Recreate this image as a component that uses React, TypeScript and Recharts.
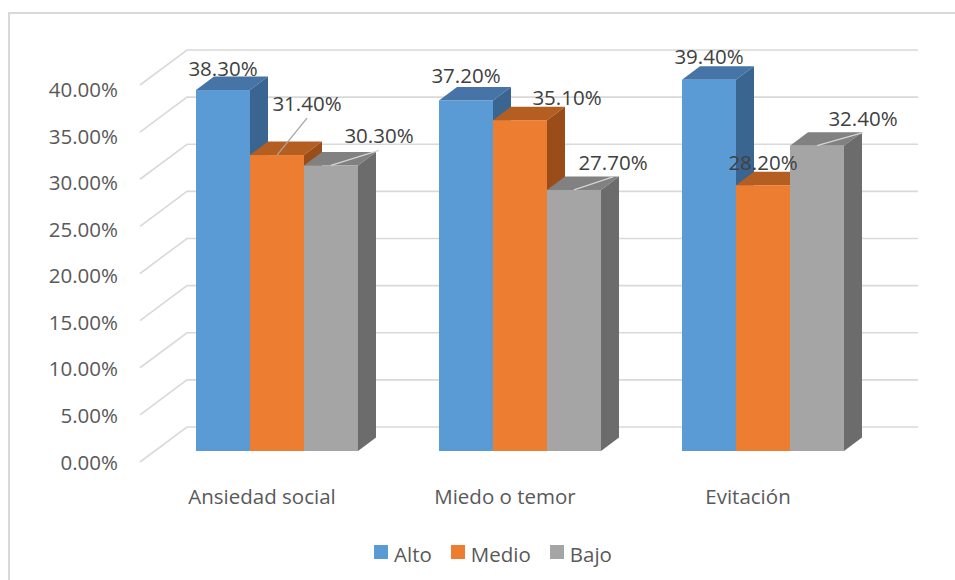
import {
  BarChart,
  Bar,
  XAxis,
  YAxis,
  CartesianGrid,
  Legend,
  LabelList,
} from "recharts";

const CATEGORIES = ["Ansiedad social", "Miedo o temor", "Evitación"];
const ALTO = [38.3, 37.2, 39.4];
const MEDIO = [31.4, 35.1, 28.2];
const BAJO = [30.3, 27.7, 32.4];
const SERIES_NAMES = ["Alto", "Medio", "Bajo"];
const Y_TICKS = [0, 5, 10, 15, 20, 25, 30, 35, 40];

const data = CATEGORIES.map((name, i) => ({
  name,
  alto: ALTO[i],
  medio: MEDIO[i],
  bajo: BAJO[i],
}));

// front / top / side shades of each series
const SHADES = {
  alto: ["#5B9BD5", "#4674A6", "#3A6590"],
  medio: ["#ED7D31", "#B55E22", "#9A4C19"],
  bajo: ["#A5A5A5", "#818181", "#6C6C6C"],
};

// label placement (dx, dy from bar top centre, leader line)
const LABEL_POS: Record<string, [number, number, boolean][]> = {
  alto: [
    [0, -21, false],
    [0, -24, false],
    [0, -23, false],
  ],
  medio: [
    [30, -51, true],
    [47, -22, false],
    [0, -22, false],
  ],
  bajo: [
    [48, -29, true],
    [39, -27, true],
    [46, -27, true],
  ],
};

const FONT = "'Open Sans', sans-serif";
const DEPTH_X = 18;
const DEPTH_Y = 13.5;

const make3dBar = (key: keyof typeof SHADES) => (props: any) => {
  const { x, y, width, height } = props;
  const [front, top, side] = SHADES[key];
  const r = x + width;
  const b = y + height;
  return (
    <g>
      <polygon
        points={`${x},${y} ${x + DEPTH_X},${y - DEPTH_Y} ${r + DEPTH_X},${y - DEPTH_Y} ${r},${y}`}
        fill={top}
      />
      <polygon
        points={`${r},${y} ${r + DEPTH_X},${y - DEPTH_Y} ${r + DEPTH_X},${b - DEPTH_Y} ${r},${b}`}
        fill={side}
      />
      <rect x={x} y={y} width={width} height={height} fill={front} />
    </g>
  );
};

const makeLabel = (key: string) => (props: any) => {
  const { x, y, width, value, index } = props;
  const [dx, dy, lead] = LABEL_POS[key][index];
  const cx = x + width / 2;
  const lx = cx + dx;
  const ly = y + dy;
  return (
    <g key={`${key}-${index}`}>
      {lead && (
        <line
          x1={cx}
          y1={y}
          x2={lx}
          y2={ly + 14}
          stroke={key === "bajo" ? "#d4d4d4" : "#a6a6a6"}
          strokeWidth={1.3}
        />
      )}
      <text
        x={lx}
        y={ly + 7}
        textAnchor="middle"
        fontFamily={FONT}
        fontSize={20.5}
        fill="#404040"
      >
        {value.toFixed(2)}%
      </text>
    </g>
  );
};

const gridLine = (p: any) => {
  const y = p.y1;
  return (
    <polyline
      key={`grid-${y}`}
      points={`${p.x1 - 15},${y + 11} ${p.x1 + 32},${y - 24} ${p.x2 + 34},${y - 24}`}
      fill="none"
      stroke="#d9d9d9"
      strokeWidth={1.6}
    />
  );
};

const YTick = (props: any) => {
  const { y, payload } = props;
  const cy = y + 11.5 + (451 - y) * 0.012;
  return (
    <text
      x={118}
      y={cy + 7}
      textAnchor="end"
      fontFamily={FONT}
      fontSize={20.5}
      fill="#595959"
    >
      {payload.value.toFixed(2)}%
    </text>
  );
};

const XTick = (props: any) => {
  const { x, y, payload } = props;
  return (
    <text
      x={x - 14.5}
      y={y + 45}
      textAnchor="middle"
      fontFamily={FONT}
      fontSize={20.5}
      fill="#595959"
    >
      {payload.value}
    </text>
  );
};

const renderLegend = (props: any) => {
  const items = [...props.payload].sort(
    (a: any, b: any) => SERIES_NAMES.indexOf(a.value) - SERIES_NAMES.indexOf(b.value)
  );
  return (
    <div
      style={{
        display: "flex",
        height: 30,
        lineHeight: "30px",
        fontFamily: FONT,
        fontSize: 20.5,
        color: "#595959",
        whiteSpace: "nowrap",
      }}
    >
      {items.map((entry: any, i: number) => (
        <div
          key={entry.value}
          style={{
            display: "flex",
            alignItems: "center",
            marginRight: i < items.length - 1 ? 19 : 0,
          }}
        >
          <span
            style={{
              width: 14,
              height: 14,
              background: entry.color,
              marginRight: 6,
              position: "relative",
              top: -2,
            }}
          />
          <span>{entry.value}</span>
        </div>
      ))}
    </div>
  );
};

export default function App() {
  return (
    <div style={{ position: "absolute", left: 0, top: 0, width: 955, height: 580, background: "#fff" }}>
      <div
        style={{
          position: "absolute",
          left: 8,
          top: 12,
          width: 947,
          height: 568,
          borderLeft: "2px solid #d9d9d9",
          borderTop: "2px solid #d9d9d9",
          boxSizing: "border-box",
        }}
      />
      <div style={{ position: "absolute", left: 0, top: 0 }}>
        <BarChart
          width={955}
          height={580}
          data={data}
          margin={{ top: 74, right: 71, bottom: 69, left: 0 }}
          barGap={0}
        >
          <CartesianGrid vertical={false} horizontal={gridLine} />
          <XAxis
            dataKey="name"
            axisLine={false}
            tickLine={false}
            height={30}
            tick={<XTick />}
          />
          <YAxis
            width={155}
            domain={[0, 40]}
            ticks={Y_TICKS}
            axisLine={false}
            tickLine={false}
            tick={<YTick />}
          />
          <Legend
            content={renderLegend}
            wrapperStyle={{ left: 374, top: 539, width: "auto" }}
          />
          <Bar dataKey="alto" name={SERIES_NAMES[0]} fill={SHADES.alto[0]} barSize={54} shape={make3dBar("alto")} isAnimationActive={false}>
            <LabelList dataKey="alto" content={makeLabel("alto")} />
          </Bar>
          <Bar dataKey="medio" name={SERIES_NAMES[1]} fill={SHADES.medio[0]} barSize={54} shape={make3dBar("medio")} isAnimationActive={false}>
            <LabelList dataKey="medio" content={makeLabel("medio")} />
          </Bar>
          <Bar dataKey="bajo" name={SERIES_NAMES[2]} fill={SHADES.bajo[0]} barSize={54} shape={make3dBar("bajo")} isAnimationActive={false}>
            <LabelList dataKey="bajo" content={makeLabel("bajo")} />
          </Bar>
        </BarChart>
      </div>
    </div>
  );
}
